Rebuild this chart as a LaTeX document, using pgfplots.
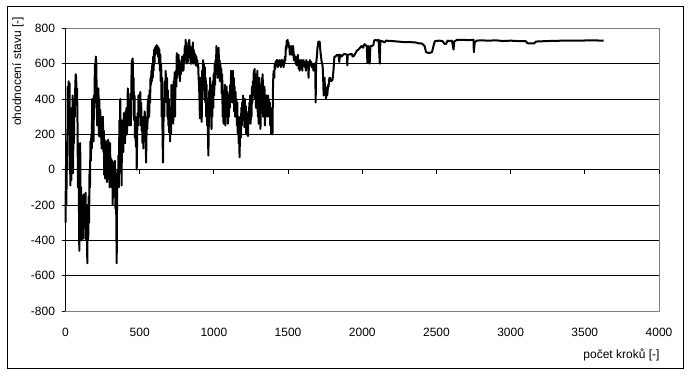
\documentclass[border=0pt]{standalone}
\usepackage{pgfplots}
\pgfplotsset{compat=1.18}
\usepackage{fontspec}
\setmainfont{Liberation Sans}
\begin{document}
\begin{tikzpicture}[x=1pt,y=1pt]
\path[use as bounding box] (0,0) rectangle (693,375);
\draw[black,line width=0.9pt] (7,7) rectangle (683,369);
\begin{axis}[
  at={(65.5pt,64pt)}, anchor=south west,
  scale only axis, width=593.5pt, height=282.7pt,
  xmin=0, xmax=4000, ymin=-800, ymax=800,
  xtick={0,500,...,4000},
  xticklabels={0,500,1000,1500,2000,2500,3000,3500,4000},
  ytick={-800,-600,...,800},
  yticklabels={-800,-600,-400,-200,0,200,400,600,800},
  tick pos=left,
  tick align=outside,
  major tick length=4pt,
  xtick style={draw=none},
  ytick style={black,line width=0.8pt},
  axis line style={gray,line width=0.9pt},
  ymajorgrids, major grid style={black,line width=0.8pt},
  ticklabel style={font=\fontsize{12}{14}\selectfont},
  xticklabel style={yshift=-10pt},
  yticklabel style={xshift=-3pt},
  clip=false,
]
\draw[black,line width=0.9pt] (axis cs:0,-800) -- (axis cs:0,800);
\pgfplotsinvokeforeach{0,500,...,4000}{\draw[black,line width=0.8pt] (axis cs:#1,0) -- (axis cs:#1,-25);}
\addplot[black,line width=2pt,line join=round] coordinates {
(0,-300) (3,20) (6,-200) (9,160) (12,0) (15,470) (18,350) (21,500) (24,200) (27,490) (30,100) (33,-90) (36,250) (39,-60) (42,350) (45,100) (48,420) (51,-20) (54,300) (57,150) (60,400) (63,300) (66,480) (69,540) (72,520) (75,380) (78,460) (81,260) (84,-100) (87,150) (90,-130) (93,-460) (96,-150) (99,150) (102,-250) (105,-100) (108,-400) (111,-150) (114,-330) (117,-200) (120,-390) (123,-140) (126,-330) (129,-160) (132,-300) (135,-130) (138,-400) (141,-200) (144,-300) (147,-530) (150,-200) (153,-400) (156,-150) (159,-300) (162,0) (165,-100) (168,160) (171,50) (174,200) (177,120) (180,400) (183,300) (186,380) (189,160) (192,420) (195,350) (198,600) (201,380) (204,640) (207,620) (210,450) (213,250) (216,420) (219,320) (222,460) (225,190) (228,400) (231,230) (234,340) (237,180) (240,300) (243,120) (246,260) (249,170) (252,300) (255,100) (258,220) (261,-30) (264,170) (267,-50) (270,100) (273,0) (276,160) (279,-70) (282,120) (285,-50) (288,170) (291,-20) (294,60) (297,-100) (300,150) (303,20) (306,-60) (309,60) (312,-100) (315,50) (318,-200) (321,40) (324,-50) (327,0) (330,-90) (333,50) (336,-220) (339,-100) (342,-250) (345,-530) (348,-100) (351,0) (354,-90) (357,80) (360,-100) (363,280) (366,150) (369,400) (372,200) (375,280) (378,-90) (381,260) (384,230) (387,280) (390,100) (393,320) (396,270) (399,220)
(402,150) (405,330) (408,260) (411,350) (414,200) (417,300) (420,460) (423,300) (426,380) (429,250) (432,400) (435,320) (438,430) (441,250) (444,500) (447,620) (450,560) (453,630) (456,400) (459,520) (462,280) (465,420) (468,180) (471,300) (474,130) (477,250) (480,0) (483,200) (486,320) (489,250) (492,420) (495,300) (498,400) (501,320) (504,440) (507,250) (510,380) (513,220) (516,300) (519,150) (522,280) (525,120) (528,300) (531,200) (534,330) (537,160) (540,290) (543,40) (546,200) (549,300) (552,230) (555,400) (558,290) (561,420) (564,300) (567,450) (570,380) (573,520) (576,480) (579,560) (582,500) (585,600) (588,520) (591,640) (594,560) (597,680) (600,600) (603,690) (606,650) (609,700) (612,680) (615,705) (618,660) (621,700) (624,640) (627,690) (630,600) (633,680) (636,560) (639,650) (642,500) (645,600) (648,300) (651,520) (654,200) (657,40) (660,250) (663,400) (666,300) (669,500) (672,420) (675,560) (678,480) (681,380) (684,520) (687,300) (690,450) (693,250) (696,400) (699,210) (702,350) (705,160) (708,300) (711,200) (714,480) (717,380) (720,300) (723,450) (726,260) (729,500) (732,350) (735,550) (738,300) (741,480) (744,560) (747,470) (750,660) (753,520) (756,600) (759,560) (762,650) (765,540) (768,620) (771,500) (774,560) (777,540) (780,600) (783,570) (786,640) (789,560) (792,600) (795,560) (798,650) (801,600) (804,700) (807,620) (810,735) (813,650) (816,700) (819,600) (822,680) (825,610) (828,720) (831,650) (834,735) (837,640) (840,700) (843,600) (846,650) (849,600) (852,690) (855,620) (858,720) (861,600) (864,680) (867,610) (870,660) (873,600) (876,650) (879,590) (882,640) (885,600) (888,620) (891,580) (894,600) (897,520) (900,480) (903,400) (906,290) (909,520) (912,300) (915,450) (918,270) (921,560) (924,400) (927,620) (930,450) (933,600) (936,450) (939,580) (942,380) (945,520) (948,300) (951,480) (954,250) (957,400) (960,200) (963,80) (966,280) (969,450) (972,300) (975,520) (978,340) (981,480) (984,230) (987,420) (990,300) (993,500) (996,350) (999,540)
(1002,420) (1005,600) (1008,480) (1011,620) (1014,560) (1017,700) (1020,580) (1023,660) (1026,520) (1029,640) (1032,690) (1035,560) (1038,620) (1041,500) (1044,600) (1047,520) (1050,570) (1053,430) (1056,540) (1059,300) (1062,450) (1065,260) (1068,420) (1071,300) (1074,480) (1077,250) (1080,400) (1083,300) (1086,470) (1089,320) (1092,440) (1095,260) (1098,350) (1101,300) (1104,420) (1107,350) (1110,480) (1113,380) (1116,560) (1119,420) (1122,540) (1125,380) (1128,560) (1131,430) (1134,520) (1137,330) (1140,470) (1143,300) (1146,440) (1149,320) (1152,400) (1155,250) (1158,380) (1161,200) (1164,300) (1167,150) (1170,280) (1173,70) (1176,200) (1179,300) (1182,180) (1185,350) (1188,250) (1191,380) (1194,300) (1197,420) (1200,280) (1203,380) (1206,240) (1209,400) (1212,300) (1215,360) (1218,200) (1221,330) (1224,250) (1227,300) (1230,190) (1233,320) (1236,260) (1239,380) (1242,300) (1245,420) (1248,260) (1251,400) (1254,300) (1257,470) (1260,380) (1263,500) (1266,420) (1269,560) (1272,520) (1275,570) (1278,400) (1281,540) (1284,350) (1287,500) (1290,380) (1293,560) (1296,300) (1299,450) (1302,260) (1305,520) (1308,300) (1311,480) (1314,230) (1317,420) (1320,320) (1323,520) (1326,380) (1329,540) (1332,300) (1335,450) (1338,350) (1341,470) (1344,250) (1347,400) (1350,300) (1353,420) (1356,340) (1359,380) (1362,300) (1365,420) (1368,360) (1371,400) (1374,300) (1377,380) (1380,250) (1383,330) (1386,200) (1389,300) (1392,350) (1395,200) (1398,450) (1401,540) (1404,560) (1407,520) (1410,600) (1413,570) (1416,610) (1419,590) (1422,620) (1425,600) (1428,620) (1431,580) (1434,610) (1437,600) (1440,590) (1443,620) (1446,600) (1449,610) (1452,580) (1455,620) (1458,600) (1461,590) (1464,620) (1467,600) (1470,580) (1473,610) (1476,600) (1479,640) (1482,620) (1485,700) (1488,680) (1491,730) (1494,720) (1497,735) (1500,700)
(1503,720) (1506,690) (1509,700) (1512,650) (1515,690) (1518,660) (1521,700) (1524,680) (1527,650) (1530,660) (1533,700) (1536,680) (1539,620) (1542,650) (1545,630) (1548,640) (1551,600) (1554,620) (1557,590) (1560,640) (1563,610) (1566,650) (1569,600) (1572,570) (1575,620) (1578,560) (1581,600) (1584,570) (1587,620) (1590,580) (1593,620) (1596,560) (1599,610) (1602,600) (1605,620) (1608,590) (1611,610) (1614,580) (1617,600) (1620,560) (1623,620) (1626,600) (1629,610) (1632,580) (1635,600) (1638,520) (1641,610) (1644,590) (1647,620) (1650,600) (1653,590) (1656,610) (1659,580) (1662,600) (1665,580) (1668,590) (1671,560) (1674,600) (1677,580) (1680,600) (1683,590) (1686,380) (1689,600) (1692,620) (1695,650) (1698,690) (1701,700) (1704,725) (1707,720) (1710,700) (1713,725) (1716,690) (1719,660) (1722,640) (1725,620) (1728,600) (1731,600) (1734,570) (1737,500) (1740,420) (1743,440) (1746,520) (1749,450) (1752,470) (1755,400) (1758,430) (1761,460) (1764,420) (1767,450) (1770,480) (1773,470) (1776,500) (1779,520) (1782,520) (1790,500) (1800,510) (1806,560) (1812,640) (1820,640) (1830,650) (1840,650) (1845,610) (1850,650) (1860,640) (1870,650) (1880,655) (1898,650) (1899,590) (1902,650) (1930,655) (1935,640) (1945,645) (1955,660) (1965,675) (1975,680) (1985,690) (1995,700) (2005,690) (2015,710) (2030,700) (2035,605) (2040,700) (2045,690) (2050,600) (2055,700) (2065,700) (2075,705) (2080,730) (2090,735) (2100,730) (2110,735) (2118,600) (2122,730) (2140,725) (2150,720) (2160,730) (2200,728) (2240,725) (2280,722) (2320,722) (2360,720) (2380,715) (2400,715) (2420,700) (2430,665) (2450,660) (2470,665) (2480,700) (2490,728) (2520,730) (2540,728) (2555,712) (2565,712) (2575,730) (2590,728) (2605,730) (2615,680) (2620,725) (2640,735) (2680,735) (2720,733) (2750,735) (2752,665) (2758,720) (2770,730) (2800,732) (2850,730) (2900,732) (2950,728) (3000,730) (3050,728) (3100,728) (3115,715) (3160,715) (3170,725) (3250,728) (3350,730) (3450,730) (3550,732) (3627,730)
};
\end{axis}
\node[rotate=90,font=\fontsize{12}{14}\selectfont] at (18,303.5) {ohodnocení stavu [-]};
\node[anchor=east,font=\fontsize{12}{14}\selectfont] at (663,20) {počet kroků [-]};
\end{tikzpicture}
\end{document}
